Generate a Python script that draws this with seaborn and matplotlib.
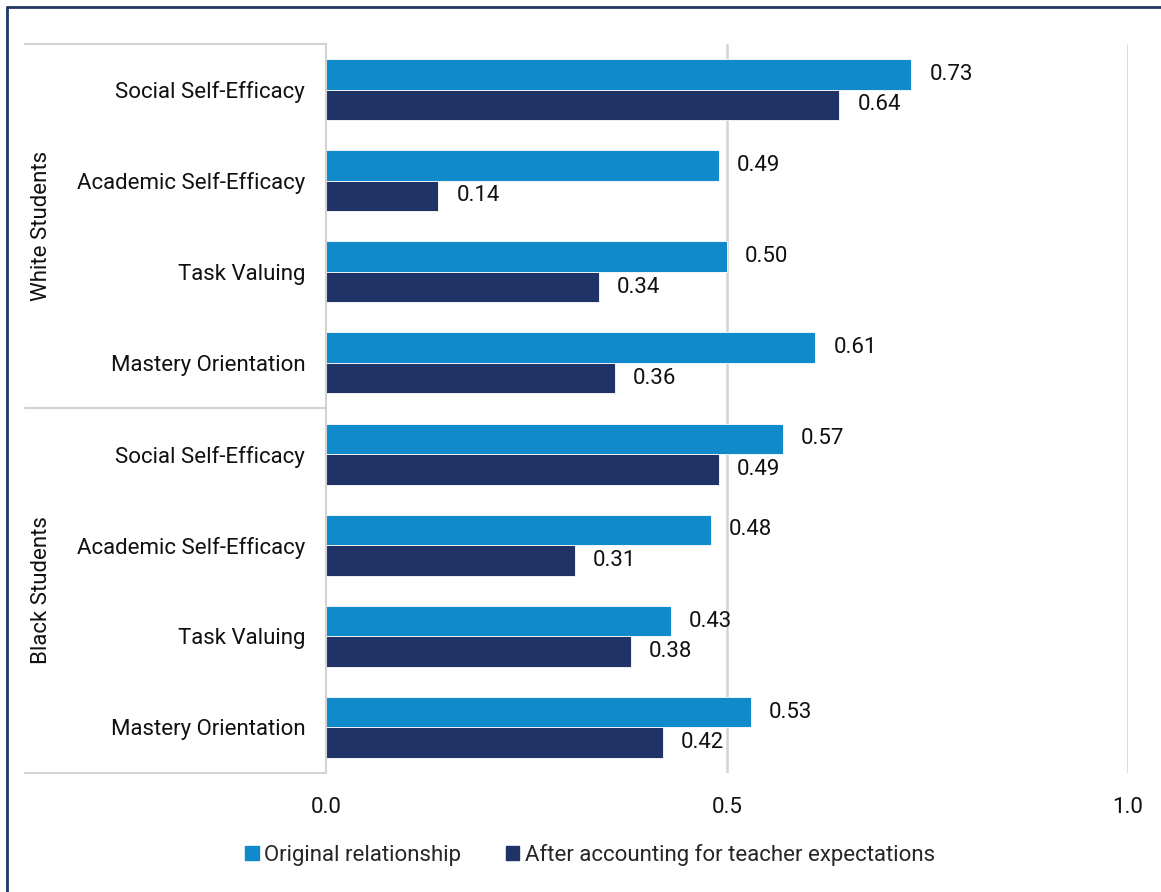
import pandas as pd
import seaborn as sns
import matplotlib.pyplot as plt
from matplotlib.lines import Line2D

groups = ['White Students', 'Black Students']
measures = ['Social Self-Efficacy', 'Academic Self-Efficacy', 'Task Valuing', 'Mastery Orientation']
series = ['Original relationship', 'After accounting for teacher expectations']
white_original = [0.73, 0.49, 0.50, 0.61]
white_after = [0.64, 0.14, 0.34, 0.36]
black_original = [0.57, 0.48, 0.43, 0.53]
black_after = [0.49, 0.31, 0.38, 0.42]
x_ticks = [0.0, 0.5, 1.0]

light = '#118ACB'
dark = '#1F3366'
grid_col = '#D3D3D3'

rows = []
for g, orig, aft in [(groups[0], white_original, white_after), (groups[1], black_original, black_after)]:
    for m, o, a in zip(measures, orig, aft):
        key = g + '|' + m
        rows.append({'key': key, 'series': series[0], 'value': o})
        rows.append({'key': key, 'series': series[1], 'value': a})
data = pd.DataFrame(rows)
keys = list(dict.fromkeys(data['key']))

sns.set_style('white')
plt.rcParams['font.family'] = ['Roboto', 'DejaVu Sans']
fs = 16

W, H = 1161, 892
fig = plt.figure(figsize=(W / 100, H / 100), dpi=100)
x0, x1, y0, y1 = 326, 1128, 44, 773
ax = fig.add_axes([x0 / W, 1 - y1 / H, (x1 - x0) / W, (y1 - y0) / H])

sns.barplot(data=data, y='key', x='value', hue='series', order=keys, hue_order=series,
            palette=[light, dark], orient='h', width=0.67, saturation=1, ax=ax, legend=True,
            edgecolor='white', linewidth=0.6)

for c in ax.containers:
    ax.bar_label(c, fmt='%.2f', padding=13, fontsize=fs, color='#111111')

ax.set_xlim(0, 1.0)
ax.set_xticks(x_ticks)
ax.set_xticklabels([f'{t:.1f}' for t in x_ticks], fontsize=fs, color='#111111')
ax.tick_params(axis='x', length=0, pad=17)
ax.tick_params(axis='y', length=0, pad=15)
ax.set_yticks(range(len(keys)))
ax.set_yticklabels([k.split('|')[1] for k in keys], fontsize=fs, color='#111111')
ax.set_xlabel('')
ax.set_ylabel('')
for t in x_ticks[1:]:
    ax.axvline(t, color=grid_col, lw=1.8, zorder=0)
for s in ['top', 'right', 'bottom']:
    ax.spines[s].set_visible(False)
ax.spines['left'].set_color(grid_col)
ax.spines['left'].set_linewidth(1.5)

# group separators and labels
for yy in [44, 408, 773]:
    fig.add_artist(Line2D([25 / W, x0 / W], [1 - yy / H, 1 - yy / H], color=grid_col, lw=1.5))
fig.text(42 / W, 1 - 226 / H, groups[0], rotation=90, ha='center', va='center', fontsize=fs, color='#111111')
fig.text(42 / W, 1 - 590 / H, groups[1], rotation=90, ha='center', va='center', fontsize=fs, color='#111111')

# legend
ax.get_legend().remove()
handles = [plt.Rectangle((0, 0), 1, 1, color=light), plt.Rectangle((0, 0), 1, 1, color=dark)]
fig.legend(handles, series, loc='center', bbox_to_anchor=(590 / W, 1 - 855 / H), ncol=2, frameon=False,
           fontsize=fs, handlelength=0.6, handleheight=0.6, handletextpad=0.25, columnspacing=2.0)

# outer border (left and top)
border = '#1F3864'
fig.add_artist(Line2D([7 / W, 7 / W], [0, 1 - 7 / H], color=border, lw=2))
fig.add_artist(Line2D([7 / W, 1], [1 - 7 / H, 1 - 7 / H], color=border, lw=2))

fig.savefig('out.png', dpi=100)
